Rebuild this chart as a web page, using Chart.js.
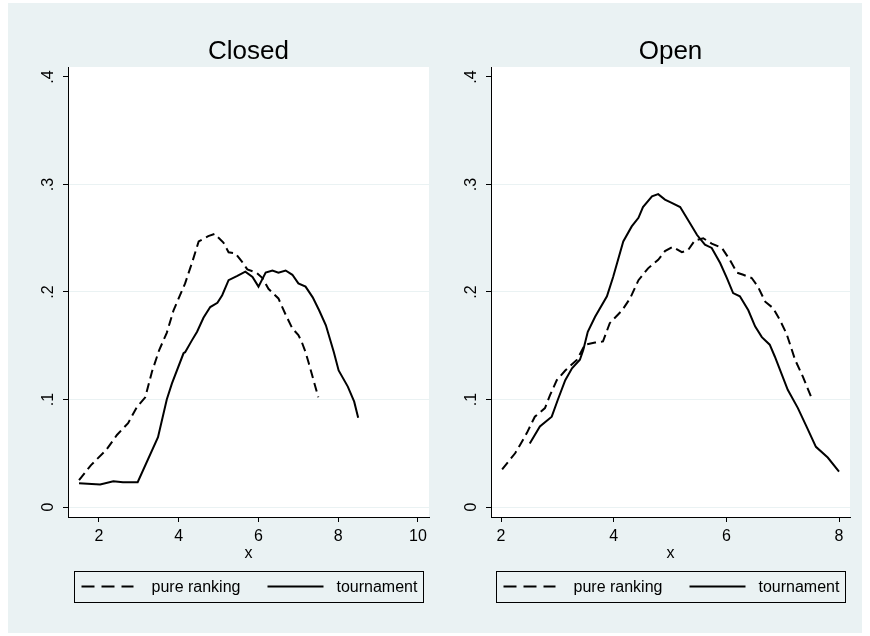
<!DOCTYPE html>
<html>
<head>
<meta charset="utf-8">
<script src="https://cdn.jsdelivr.net/npm/chart.js@4.4.1/dist/chart.umd.min.js"></script>
<style>
  html, body { margin: 0; padding: 0; background: #fff; }
  #graph { position: absolute; left: 8px; top: 3px; width: 854px; height: 630px; background: rgb(234, 242, 243); }
  #graph canvas { position: absolute; top: 0; }
  #closedChart { left: 0; }
  #openChart { left: 427px; }
</style>
</head>
<body>
<div id="graph">
  <canvas id="closedChart" width="427" height="630"></canvas>
  <canvas id="openChart" width="427" height="630"></canvas>
</div>
<script>
// tick values
const yTicks = [0, 0.1, 0.2, 0.3, 0.4];
const closedXTicks = [2, 4, 6, 8, 10];
const openXTicks = [2, 4, 6, 8];

const seriesLabels = ['pure ranking', 'tournament'];

// Closed - pure ranking
const closedRankX = [1.5, 1.8, 2.18, 2.45, 2.73, 2.95, 3.16, 3.33, 3.51, 3.70, 3.87, 4.16, 4.34, 4.50, 4.74, 4.90,
  5.12, 5.25, 5.42, 5.59, 5.72, 5.95, 6.1, 6.25, 6.5, 6.68, 6.85, 7.0, 7.08, 7.18, 7.26, 7.5];
const closedRankY = [0.025, 0.039, 0.053, 0.067, 0.078, 0.093, 0.102, 0.126, 0.146, 0.162, 0.183, 0.208, 0.228, 0.247, 0.252, 0.254,
  0.246, 0.237, 0.236, 0.228, 0.221, 0.218, 0.213, 0.203, 0.194, 0.179, 0.166, 0.160, 0.154, 0.144, 0.134, 0.102];

// Closed - tournament
const closedTourX = [1.5, 2.03, 2.36, 2.6, 2.97, 3.48, 3.7, 3.83, 4.12, 4.16, 4.33, 4.46, 4.62, 4.79, 4.97, 5.09, 5.25, 5.47,
  5.67, 5.85, 6.0, 6.18, 6.35, 6.5, 6.68, 6.85, 7.0, 7.18, 7.36, 7.52, 7.69, 7.89, 8.01, 8.24, 8.4, 8.5];
const closedTourY = [0.022, 0.021, 0.024, 0.023, 0.023, 0.065, 0.100, 0.115, 0.143, 0.144, 0.155, 0.163, 0.176, 0.186, 0.190, 0.197, 0.211, 0.215,
  0.219, 0.214, 0.205, 0.218, 0.220, 0.218, 0.220, 0.216, 0.208, 0.205, 0.195, 0.183, 0.169, 0.144, 0.127, 0.112, 0.098, 0.083];

// Open - pure ranking
const openRankX = [2.02, 2.25, 2.34, 2.46, 2.6, 2.78, 2.87, 2.99, 3.14, 3.35, 3.49, 3.67, 3.81, 3.93, 4.15, 4.29, 4.44, 4.61,
  4.79, 4.91, 5.05, 5.21, 5.32, 5.44, 5.59, 5.74, 5.92, 6.06, 6.19, 6.3, 6.45, 6.56, 6.69, 6.83, 6.95, 7.07, 7.22, 7.36, 7.5];
const openRankY = [0.035, 0.050, 0.058, 0.069, 0.084, 0.092, 0.104, 0.118, 0.127, 0.137, 0.151, 0.153, 0.154, 0.171, 0.183, 0.194, 0.211, 0.222,
  0.230, 0.238, 0.242, 0.237, 0.239, 0.248, 0.250, 0.245, 0.241, 0.230, 0.218, 0.216, 0.213, 0.205, 0.191, 0.185, 0.174, 0.161, 0.137, 0.121, 0.103];

// Open - tournament
const openTourX = [2.51, 2.69, 2.9, 3.01, 3.14, 3.26, 3.4, 3.46, 3.54, 3.67, 3.88, 3.99, 4.17, 4.32, 4.44, 4.52, 4.68, 4.79,
  4.91, 5.03, 5.18, 5.32, 5.48, 5.62, 5.74, 5.89, 6.01, 6.12, 6.24, 6.39, 6.51, 6.63, 6.77, 6.86, 7.09, 7.27, 7.43, 7.59, 7.8, 8.0];
const openTourY = [0.059, 0.075, 0.084, 0.100, 0.118, 0.129, 0.137, 0.146, 0.163, 0.177, 0.196, 0.214, 0.247, 0.261, 0.269, 0.279, 0.289, 0.291,
  0.286, 0.283, 0.279, 0.267, 0.253, 0.244, 0.241, 0.227, 0.213, 0.199, 0.196, 0.183, 0.168, 0.158, 0.151, 0.140, 0.109, 0.092, 0.074, 0.056, 0.046, 0.033];

const FONT = '"Liberation Sans", Arial, sans-serif';
const GRID = 'rgb(234, 242, 243)';
const rankDash = [9, 5];

function pairs(xs, ys) {
    return xs.map((x, i) => ({ x: x, y: ys[i] }));
}

// white plot region, title above, boxed legend below
const panelPlugin = {
    id: 'panel',
    beforeDraw(chart) {
        const a = chart.chartArea;
        const ctx = chart.ctx;
        ctx.save();
        ctx.fillStyle = '#fff';
        ctx.fillRect(a.left, a.top, a.right - a.left, a.bottom - a.top);
        ctx.restore();
    },
    afterDraw(chart, args, opts) {
        const a = chart.chartArea;
        const ctx = chart.ctx;
        const cx = (a.left + a.right) / 2;
        ctx.save();
        ctx.fillStyle = '#000';
        ctx.font = '26px ' + FONT;
        ctx.textAlign = 'center';
        ctx.textBaseline = 'alphabetic';
        ctx.fillText(opts.title, cx, 56);

        // legend box
        const bw = 349, bh = 31;
        const bx = Math.round(cx - bw / 2) + 0.5;
        const by = 568.5;
        ctx.strokeStyle = '#000';
        ctx.lineWidth = 1;
        ctx.strokeRect(bx, by, bw, bh);

        const ly = by + 15;
        ctx.lineWidth = 2;
        ctx.setLineDash([13, 7]);
        ctx.beginPath();
        ctx.moveTo(bx + 7, ly);
        ctx.lineTo(bx + 59, ly);
        ctx.stroke();
        ctx.setLineDash([]);
        ctx.beginPath();
        ctx.moveTo(bx + 193, ly);
        ctx.lineTo(bx + 249, ly);
        ctx.stroke();

        ctx.font = '16px ' + FONT;
        ctx.textAlign = 'left';
        ctx.textBaseline = 'middle';
        const ds = chart.data.datasets;
        ctx.fillText(ds[0].label, bx + 77, ly + 1);
        ctx.fillText(ds[1].label, bx + 262, ly + 1);
        ctx.restore();
    }
};

function makePanel(canvasId, title, xMin, xMax, xTicks, axisWidth, rightPad, rank, tour) {
    new Chart(document.getElementById(canvasId), {
        type: 'line',
        data: {
            datasets: [{
                label: seriesLabels[0],
                data: rank,
                borderColor: '#000',
                borderWidth: 2,
                borderDash: rankDash,
                pointRadius: 0,
                tension: 0,
                fill: false
            }, {
                label: seriesLabels[1],
                data: tour,
                borderColor: '#000',
                borderWidth: 2,
                pointRadius: 0,
                tension: 0,
                fill: false
            }]
        },
        options: {
            responsive: false,
            animation: false,
            devicePixelRatio: 1,
            layout: { padding: { left: 0, right: rightPad, top: 64, bottom: 66 } },
            plugins: {
                legend: { display: false },
                tooltip: { enabled: false },
                panel: { title: title }
            },
            scales: {
                x: {
                    type: 'linear',
                    min: xMin,
                    max: xMax,
                    afterBuildTicks: s => { s.ticks = xTicks.map(v => ({ value: v })); },
                    afterFit: s => { s.height = 50; },
                    grid: { drawOnChartArea: false, tickLength: 5, tickColor: '#000' },
                    border: { color: '#000', width: 1 },
                    ticks: { color: '#000', font: { family: FONT, size: 16 }, padding: 5, maxRotation: 0, autoSkip: false },
                    title: { display: true, text: 'x', color: '#000', font: { family: FONT, size: 16 }, padding: { top: 0, bottom: 4 } }
                },
                y: {
                    min: -0.0093,
                    max: 0.4093,
                    afterBuildTicks: s => { s.ticks = yTicks.map(v => ({ value: v })); },
                    afterFit: s => { s.width = axisWidth; },
                    grid: {
                        color: c => (c.tick && c.tick.value === 0.4 ? 'rgba(0,0,0,0)' : GRID),
                        lineWidth: 1,
                        tickLength: 5,
                        tickColor: '#000'
                    },
                    border: { color: '#000', width: 1 },
                    ticks: {
                        color: '#000',
                        font: { family: FONT, size: 16 },
                        minRotation: 90,
                        maxRotation: 90,
                        crossAlign: 'center',
                        padding: 8,
                        autoSkip: false,
                        callback: v => (v === 0 ? '0' : String(v).replace('0.', '.'))
                    }
                }
            }
        },
        plugins: [panelPlugin]
    });
}

makePanel('closedChart', 'Closed', 1.223, 10.276, closedXTicks, 60, 6,
    pairs(closedRankX, closedRankY), pairs(closedTourX, closedTourY));
makePanel('openChart', 'Open', 1.822, 8.195, openXTicks, 56, 12,
    pairs(openRankX, openRankY), pairs(openTourX, openTourY));
</script>
</body>
</html>
